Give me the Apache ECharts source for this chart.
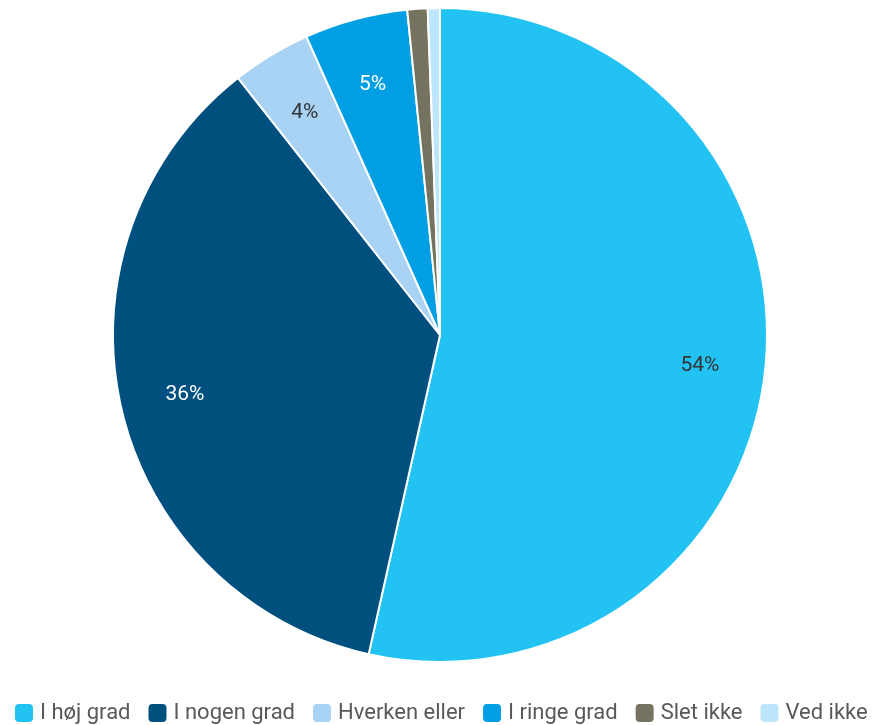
<!DOCTYPE html>
<html><head><meta charset="utf-8">
<script src="https://cdn.jsdelivr.net/npm/echarts@6/dist/echarts.min.js"></script>
<style>html,body{margin:0;padding:0;background:#fff}#c{width:888px;height:725px}</style>
</head><body><div id="c"></div>
<script>
var categories = ['I høj grad','I nogen grad','Hverken eller','I ringe grad','Slet ikke','Ved ikke'];
var values = [53.5, 35.9, 3.9, 5.1, 1.0, 0.6];
var colors = ['#22C3F3','#00507F','#A8D3F4','#009FE3','#75735F','#BDE6FA'];
var labelColors = ['#333333','#ffffff','#333333','#ffffff','#333333','#333333'];

var chart = echarts.init(document.getElementById('c'));
var base = categories.map(function(n,i){return {name:n,value:values[i],itemStyle:{color:colors[i]}};});
var over = categories.map(function(n,i){return {name:n,value:values[i],label:{color:labelColors[i]}};});
chart.setOption({
  animation:false,
  legend:{
    data:categories, top:697, left:8,
    icon:'roundRect', itemWidth:20, itemHeight:20, itemGap:16,
    textStyle:{fontFamily:'Roboto', fontSize:22, color:'#595959', padding:[0,0,0,1]}
  },
  series:[
    {type:'pie', center:[440,335], radius:[0,327], startAngle:90, clockwise:true,
     data:base, label:{show:false}, labelLine:{show:false},
     itemStyle:{borderColor:'#fff', borderWidth:2}, silent:true},
    {type:'pie', center:[440,337], radius:[190,327], startAngle:90, clockwise:true,
     data:over, silent:true, legendHoverLink:false,
     itemStyle:{color:'rgba(0,0,0,0)'},
     labelLine:{show:false},
     label:{show:true, position:'inside', fontFamily:'Roboto', fontSize:21,
       formatter:function(p){return p.percent<2?'':Math.round(p.percent)+'%';}}}
  ]
});
</script></body></html>
